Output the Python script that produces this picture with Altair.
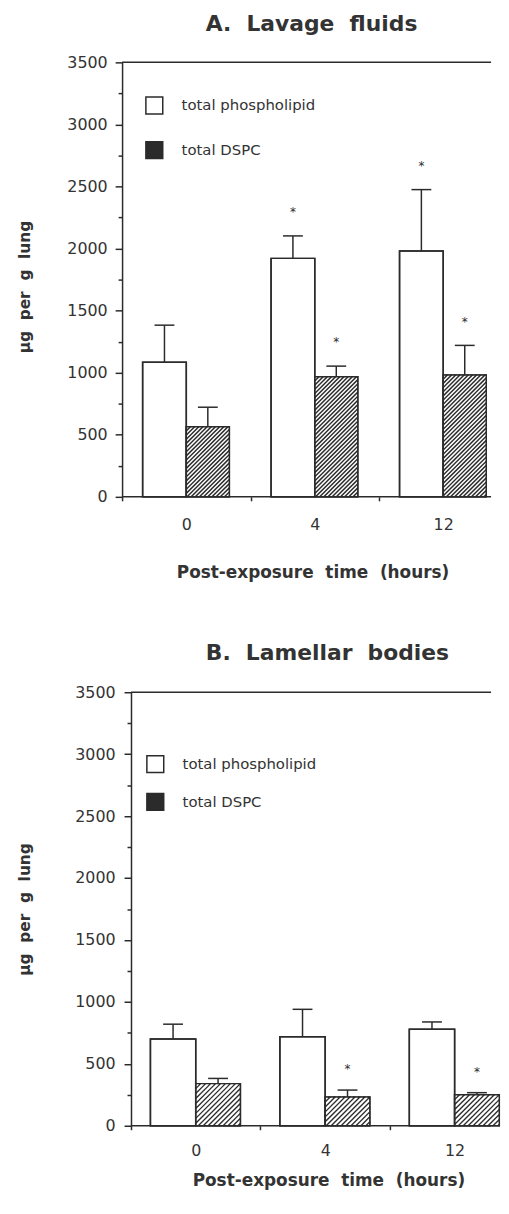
import altair as alt
import numpy as np
import pandas as pd

# ---------------- data ----------------
TIMES = ["0", "4", "12"]
SERIES = ["total phospholipid", "total DSPC"]

A_TITLE = "A.\u00a0 Lavage\u00a0 fluids"
A_TP = [1085, 1921, 1980]
A_TP_UP = [1383, 2102, 2475]
A_DSPC = [565, 967, 981]
A_DSPC_UP = [722, 1053, 1220]
A_TP_STAR = [False, True, True]
A_DSPC_STAR = [False, True, True]

B_TITLE = "B.\u00a0 Lamellar\u00a0 bodies"
B_TP = [700, 718, 780]
B_TP_UP = [820, 940, 838]
B_DSPC = [340, 232, 251]
B_DSPC_UP = [382, 288, 267]
B_TP_STAR = [False, False, False]
B_DSPC_STAR = [False, True, True]

Y_MAX = 3500
Y_TICKS = list(range(0, 3501, 250))
X_TITLE = "Post-exposure\u00a0 time\u00a0 (hours)"
Y_TITLE = "\u03bcg\u00a0 per\u00a0 g\u00a0 lung"

# ---------------- style ----------------
DARK = "#2b2b2b"
TXT = "#333333"
FONT = "DejaVu Sans"
CAP_PX = 10
PLOT_W = 372

A_CFG = dict(sx=129.5, axis_px=0, height=438, left=0.16, right=0.835,
             hatch_s=4.2, hatch_w=1.5, star_px=27,
             lab_pad=8, title_pad=35, ytitle_y=226, xlab_pad=20, xtitle_pad=28, xtitle_x=192,
             legx=23, legy=34, legrow=22, title_dx=5, title_off=19)
B_CFG = dict(sx=130.5, axis_px=9, height=437, left=0.15, right=0.845,
             hatch_s=5.0, hatch_w=2.2, star_px=24,
             lab_pad=9, title_pad=43, ytitle_y=None, xlab_pad=17, xtitle_pad=10, xtitle_x=208,
             legx=24, legy=63, legrow=15, title_dx=21, title_off=20)


def panel(title, tp, tp_up, dspc, dspc_up, tp_star, dspc_star, cfg):
    sx = cfg["sx"]
    height = cfg["height"]
    xmin = -cfg["axis_px"] / sx
    xmax = (PLOT_W - cfg["axis_px"]) / sx
    sy = height / Y_MAX
    cap = CAP_PX / sx

    rows = []
    for i, t in enumerate(TIMES):
        specs = [
            (SERIES[0], tp[i], tp_up[i], tp_star[i], i + cfg["left"], i + 0.5),
            (SERIES[1], dspc[i], dspc_up[i], dspc_star[i], i + 0.5, i + cfg["right"]),
        ]
        for s, v, up, st, a, b in specs:
            c = (a + b) / 2
            rows.append(dict(time=t, series=s, x0=a, x1=b, xc=c, cl=c - cap, cr=c + cap,
                             value=v, up=up,
                             star=(up + cfg["star_px"] / sy) if st else np.nan))
    df = pd.DataFrame(rows)
    stars = df[df["star"].notna()]

    # diagonal hatch lines for DSPC bars (derived from bar geometry)
    hrows = []
    s = cfg["hatch_s"]
    for _, r in df[df["series"] == SERIES[1]].iterrows():
        W = (r["x1"] - r["x0"]) * sx
        H = r["value"] * sy
        for c in np.arange(-H + s / 2, W, s):
            u0 = max(0.0, c)
            u1 = min(W, c + H)
            if u1 - u0 < 0.3:
                continue
            hrows.append(dict(hx=r["x0"] + u0 / sx, hx2=r["x0"] + u1 / sx,
                              hy=(u0 - c) / sy, hy2=(u1 - c) / sy))
    hdf = pd.DataFrame(hrows)

    # frame lines: x-axis line at 0 and top border at Y_MAX
    frame = pd.DataFrame({"fx": [0.0, 0.0], "fx2": [xmax, xmax], "fy": [0, Y_MAX]})

    xs = alt.Scale(domain=[xmin, xmax], nice=False, zero=False)
    ys = alt.Scale(domain=[0, Y_MAX], nice=False)

    xvals = []
    for i in range(len(TIMES)):
        xvals += [i, i + 0.5]
    label_expr = " : ".join(
        [f"datum.value === {i + 0.5} ? '{t}'" for i, t in enumerate(TIMES)]) + " : ''"

    xaxis = alt.Axis(values=xvals, labelExpr=label_expr, domain=False,
                     tickSize={"condition": {"test": "datum.value % 1 === 0", "value": 4}, "value": 0},
                     tickColor=DARK, tickWidth=1.5,
                     labelFont=FONT, labelFontSize=16, labelColor=TXT, labelPadding=cfg["xlab_pad"],
                     labelAngle=0, labelFlush=False, labelOverlap=False, grid=False,
                     titleFont=FONT, titleFontSize=17, titleFontWeight="bold", titleColor=TXT,
                     titlePadding=cfg["xtitle_pad"], titleX=cfg["xtitle_x"])
    ykw = dict(values=Y_TICKS, labelExpr="datum.value % 500 === 0 ? datum.label : ''",
               format="d", offset=-cfg["axis_px"],
               tickSize={"condition": {"test": "datum.value % 500 === 0", "value": 7}, "value": 4},
               domainColor=DARK, domainWidth=1.5, tickColor=DARK, tickWidth=1.5,
               labelFont=FONT, labelFontSize=16, labelColor=TXT, labelPadding=cfg["lab_pad"],
               labelOverlap=False, grid=False,
               titleFont=FONT, titleFontSize=15.5, titleFontWeight="bold", titleColor=TXT,
               titlePadding=cfg["title_pad"])
    if cfg["ytitle_y"] is not None:
        ykw["titleY"] = cfg["ytitle_y"]
    yaxis = alt.Axis(**ykw)

    def X(f):
        return alt.X(f"{f}:Q", scale=xs, axis=xaxis, title=X_TITLE)

    def Y(f):
        return alt.Y(f"{f}:Q", scale=ys, axis=yaxis, title=Y_TITLE)

    legend = alt.Legend(orient="none", legendX=cfg["legx"], legendY=cfg["legy"],
                        symbolType="square", symbolSize=289, symbolStrokeColor=DARK,
                        symbolStrokeWidth=1.5, labelFont=FONT, labelFontSize=15, labelColor=TXT,
                        rowPadding=cfg["legrow"], labelOffset=18, padding=0)

    base = alt.Chart(df)
    bars = base.mark_rect(stroke=DARK, strokeWidth=1.5).encode(
        x=X("x0"), x2="x1", y=Y("value"), y2=alt.Y2(datum=0),
        fill=alt.Fill("series:N", scale=alt.Scale(domain=SERIES, range=["white", DARK]),
                      legend=legend, title=None),
    )
    hatch = alt.Chart(hdf).mark_rule(stroke="white", strokeWidth=cfg["hatch_w"]).encode(
        x=X("hx"), x2="hx2", y=Y("hy"), y2="hy2")
    outline = base.mark_rect(fillOpacity=0, stroke=DARK, strokeWidth=1.5).encode(
        x=X("x0"), x2="x1", y=Y("value"), y2=alt.Y2(datum=0))
    stems = base.mark_rule(stroke=DARK, strokeWidth=1.5).encode(
        x=X("xc"), y=Y("value"), y2="up")
    caps = base.mark_rule(stroke=DARK, strokeWidth=1.5).encode(
        x=X("cl"), x2="cr", y=Y("up"))
    star = alt.Chart(stars).mark_text(text="*", font=FONT, fontSize=12, color=DARK,
                                      baseline="middle", dy=3).encode(
        x=X("xc"), y=Y("star"))
    lines = alt.Chart(frame).mark_rule(stroke=DARK, strokeWidth=1.5).encode(
        x=X("fx"), x2="fx2", y=Y("fy"))

    return alt.layer(bars, hatch, outline, stems, caps, star, lines).properties(
        width=PLOT_W, height=height,
        title=alt.Title(title, font=FONT, fontSize=22, fontWeight="bold", color=TXT,
                        anchor="middle", offset=cfg["title_off"], dx=cfg["title_dx"]),
    )


pa = panel(A_TITLE, A_TP, A_TP_UP, A_DSPC, A_DSPC_UP, A_TP_STAR, A_DSPC_STAR, A_CFG)
pb = panel(B_TITLE, B_TP, B_TP_UP, B_DSPC, B_DSPC_UP, B_TP_STAR, B_DSPC_STAR, B_CFG)

chart = alt.vconcat(pa, pb, spacing=62).resolve_scale(
    fill="independent", x="independent", y="independent"
).resolve_legend(fill="independent").properties(
    padding={"left": 9, "top": 0, "right": 0, "bottom": 0}
).configure_view(strokeWidth=0)

chart.save("out.html", embed_options={"renderer": "svg", "actions": False})
